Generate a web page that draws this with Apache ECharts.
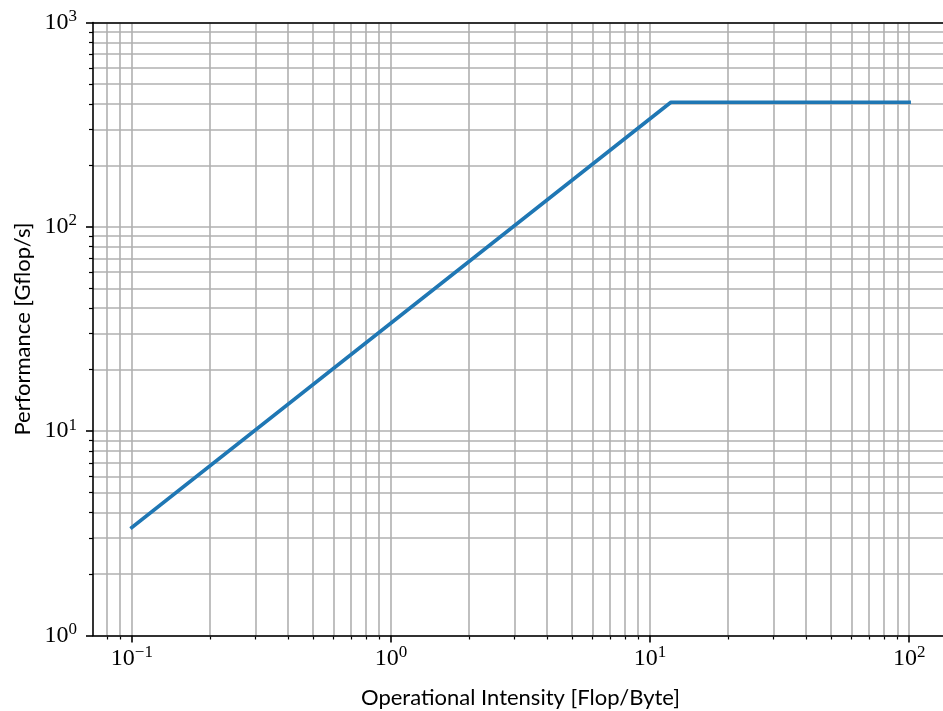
<!DOCTYPE html>
<html>
<head>
<meta charset="utf-8">
<script src="https://cdn.jsdelivr.net/npm/echarts@6/dist/echarts.min.js"></script>
<style>
  html, body { margin: 0; padding: 0; background: #fff; }
  #chart { width: 943px; height: 711px; }
</style>
</head>
<body>
<div id="chart"></div>
<script>
// Roofline: memory-bound slope up to the ridge point, then compute-bound ceiling.
const rooflineX = [0.1, 12.04, 100];        // operational intensity [Flop/Byte]
const rooflineY = [3.38, 407, 407];         // attainable performance [Gflop/s]

// Log-axis tick positions
const xMajorTicks = [0.1, 1, 10, 100];
const xMinorTicks = [0.08, 0.09,
  0.2, 0.3, 0.4, 0.5, 0.6, 0.7, 0.8, 0.9,
  2, 3, 4, 5, 6, 7, 8, 9,
  20, 30, 40, 50, 60, 70, 80, 90];
const yMajorTicks = [1, 10, 100, 1000];
const yMinorTicks = [2, 3, 4, 5, 6, 7, 8, 9,
  20, 30, 40, 50, 60, 70, 80, 90,
  200, 300, 400, 500, 600, 700, 800, 900];

const xMin = Math.pow(10, -1.15), xMax = Math.pow(10, 2.15);
const yMin = 1, yMax = 1000;

const gridColor = '#b0b0b0';
const serif = '"Liberation Serif", "DejaVu Serif", serif';
const sans = 'Lato, "Open Sans", "DejaVu Sans", sans-serif';

function powLabel(v) {
  const e = Math.round(Math.log10(v));
  const es = e < 0 ? '\u2212' + (-e) : String(e);
  return '{b|10}{s|' + es + '}';
}
const richPow = {
  b: { fontFamily: serif, fontSize: 24, color: '#000' },
  s: { fontFamily: serif, fontSize: 17, color: '#000', padding: [0, 0, 12, 0] }
};

function majorAxis(dim, ticks, min, max, name, nameGap, pos) {
  return {
    type: 'log', logBase: 10, min: min, max: max, position: pos,
    name: name, nameLocation: 'middle', nameGap: nameGap,
    nameTextStyle: { fontFamily: sans, fontSize: 22, color: '#000' },
    axisLine: { show: true, lineStyle: { color: '#000', width: 1.6 } },
    axisTick: { show: true, customValues: ticks, length: 7, lineStyle: { color: '#000', width: 1.6 } },
    axisLabel: {
      show: true, customValues: ticks, formatter: powLabel, rich: richPow,
      fontFamily: serif, fontSize: 24, color: '#000',
      margin: dim === 'x' ? 9 : 16
    },
    splitLine: { show: true, lineStyle: { color: gridColor, width: 1.6 } },
    minorTick: { show: false }, minorSplitLine: { show: false },
    z: 3
  };
}
function minorAxis(ticks, min, max, pos) {
  return {
    type: 'log', logBase: 10, min: min, max: max, position: pos,
    axisLine: { show: false },
    axisTick: { show: true, customValues: ticks, length: 4, lineStyle: { color: '#000', width: 1.2 } },
    axisLabel: { show: false },
    splitLine: { show: true, lineStyle: { color: gridColor, width: 1.6 } },
    z: 2
  };
}
// top spine only
function spineAxis(min, max, pos) {
  return {
    type: 'log', logBase: 10, min: min, max: max, position: pos,
    axisLine: { show: true, onZero: false, lineStyle: { color: '#000', width: 1.6 } },
    axisTick: { show: false }, axisLabel: { show: false }, splitLine: { show: false },
    z: 4
  };
}

const chart = echarts.init(document.getElementById('chart'), null, { renderer: 'canvas' });
chart.setOption({
  animation: false,
  backgroundColor: '#fff',
  grid: {
    left: 93, top: 22.5, width: 855, height: 613,
    containLabel: false, outerBoundsMode: 'none', show: false
  },
  xAxis: [
    minorAxis(xMinorTicks, xMin, xMax, 'bottom'),
    majorAxis('x', xMajorTicks, xMin, xMax, 'Operational Intensity [Flop/Byte]', 51, 'bottom'),
    spineAxis(xMin, xMax, 'top')
  ],
  yAxis: [
    minorAxis(yMinorTicks, yMin, yMax, 'left'),
    majorAxis('y', yMajorTicks, yMin, yMax, 'Performance [Gflop/s]', 55, 'left')
  ],
  series: [{
    type: 'line',
    xAxisIndex: 1, yAxisIndex: 1,
    data: rooflineX.map((x, i) => [x, rooflineY[i]]),
    showSymbol: false, symbol: 'none',
    lineStyle: { color: '#1f77b4', width: 3.6, cap: 'square' },
    z: 5
  }]
});
</script>
</body>
</html>
